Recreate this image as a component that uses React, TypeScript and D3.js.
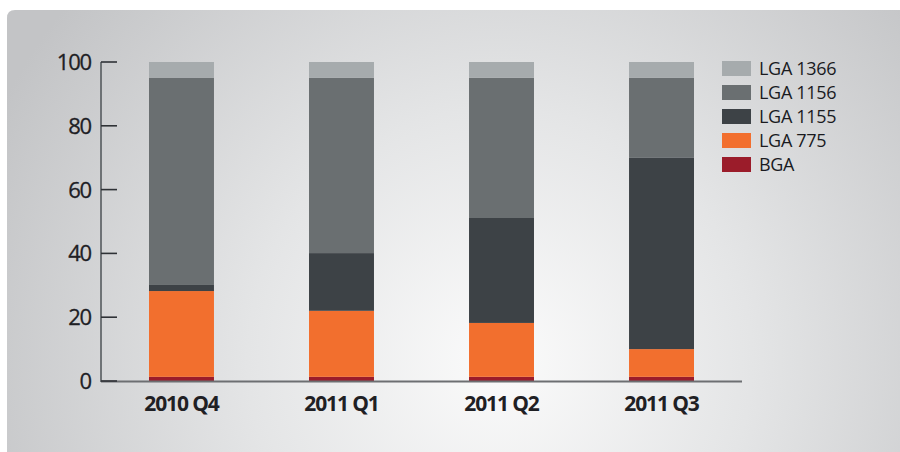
import React from "react";
import * as d3 from "d3";

const categories = ["2010 Q4", "2011 Q1", "2011 Q2", "2011 Q3"];
const seriesNames = ["BGA", "LGA 775", "LGA 1155", "LGA 1156", "LGA 1366"];
const bga = [1.3, 1.3, 1.3, 1.3];
const lga775 = [26.9, 20.7, 16.9, 8.7];
const lga1155 = [1.9, 18.1, 32.9, 60.1];
const lga1156 = [65, 55, 44, 25];
const lga1366 = [4.9, 4.9, 4.9, 4.9];
const yTicks = [0, 20, 40, 60, 80, 100];
const colors = ["#9b1c2a", "#f26f2e", "#3d4246", "#6a6f71", "#a6abad"];
const legendOrder = ["LGA 1366", "LGA 1156", "LGA 1155", "LGA 775", "BGA"];

export default function App() {
  const W = 900, H = 452;
  const x = d3.scaleBand<string>().domain(categories).range([101, 742]).paddingInner(0.594).paddingOuter(0.3);
  const y = d3.scaleLinear().domain([0, 100]).range([381, 62]);
  const rows = categories.map((c, i) => ({
    cat: c,
    "BGA": bga[i],
    "LGA 775": lga775[i],
    "LGA 1155": lga1155[i],
    "LGA 1156": lga1156[i],
    "LGA 1366": lga1366[i],
  }));
  const stack = d3.stack<any>().keys(seriesNames);
  const layers = stack(rows);
  const color = d3.scaleOrdinal<string, string>().domain(seriesNames).range(colors);
  const font = "'Open Sans', sans-serif";
  return (
    <svg width={W} height={H} style={{ position: "absolute", left: 0, top: 0 }}>
      <defs>
        <radialGradient id="bg" cx="500" cy="360" r="560" gradientUnits="userSpaceOnUse">
          <stop offset="0" stopColor="#fbfbfb" />
          <stop offset="0.45" stopColor="#e4e5e6" />
          <stop offset="1" stopColor="#c3c4c6" />
        </radialGradient>
      </defs>
      <rect x={0} y={0} width={W} height={H} fill="#ffffff" />
      <path d={`M7,${H} L7,18 Q7,10 15,10 L${W},10 L${W},${H} Z`} fill="url(#bg)" />
      {layers.map((layer) => (
        <g key={layer.key} fill={color(layer.key)}>
          {layer.map((d: any, i: number) => (
            <rect key={i} x={x(d.data.cat)} y={y(d[1])} width={x.bandwidth()} height={y(d[0]) - y(d[1])} />
          ))}
        </g>
      ))}
      <line x1={101} x2={101} y1={62} y2={382} stroke="#555a5e" strokeWidth={1.6} />
      <line x1={101} x2={742} y1={381.5} y2={381.5} stroke="#6d6f72" strokeWidth={2} />
      {yTicks.map((t) => (
        <g key={t}>
          <line x1={101} x2={117} y1={y(t)} y2={y(t)} stroke="#2f3236" strokeWidth={1.6} />
          <text x={91} y={y(t)} dy="0.36em" textAnchor="end" fontFamily={font} fontSize={22} fill="#1e2024" letterSpacing={-1.2} stroke="#1e2024" strokeWidth={0.3}>{t}</text>
        </g>
      ))}
      {categories.map((c) => (
        <text key={c} x={(x(c) as number) + x.bandwidth() / 2} y={411} textAnchor="middle" fontFamily={font} fontWeight="bold" fontSize={21} fill="#1f2024" letterSpacing={-1.1}>{c}</text>
      ))}
      {legendOrder.map((k, i) => (
        <g key={k} transform={`translate(722, ${61 + i * 24})`}>
          <rect width={29} height={15} fill={color(k)} />
          <text x={37} y={7.5} dy="0.36em" fontFamily={font} fontSize={18} fill="#1a1b1f" letterSpacing={-0.3}>{k}</text>
        </g>
      ))}
    </svg>
  );
}
